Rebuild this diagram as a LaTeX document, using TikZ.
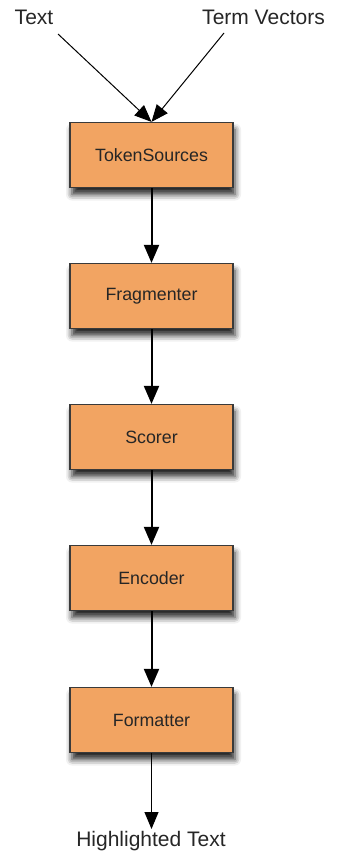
\documentclass[tikz,border=0pt]{standalone}
\usepackage{fontspec}
\setmainfont{Liberation Sans}
\usetikzlibrary{arrows.meta,shadows.blur}
\definecolor{boxfill}{HTML}{F2A462}
\definecolor{boxline}{HTML}{3A3A3A}
\tikzset{
  stage/.style={draw=boxline, line width=1.2pt, fill=boxfill, minimum width=163pt, minimum height=65pt, inner sep=0pt,
    font=\fontsize{17.8}{20}\selectfont, text=black!85,
    blur shadow={shadow xshift=2pt, shadow yshift=-7pt, shadow blur radius=6pt, shadow opacity=85}},
  lbl/.style={font=\fontsize{21}{23}\selectfont, text=black!85, inner sep=0pt, anchor=base},
  flow/.style={line width=2pt, -{Triangle[length=18pt,width=15pt]}},
  thin/.style={line width=1pt, -{Triangle[length=17pt,width=14pt]}}
}
\begin{document}
\begin{tikzpicture}[x=1pt,y=-1pt]
\useasboundingbox (0,0) rectangle (337,851);
\node[lbl] (text) at (34,25) {Text};
\node[lbl] (tv) at (263.5,25) {Term Vectors};
\coordinate (s1) at (58,34);
\coordinate (s2) at (224,33);
\node[stage] (ts) at (151.5,155) {TokenSources};
\node[stage] (fr) at (151.5,296) {Fragmenter};
\node[stage] (sc) at (151.5,437) {Scorer};
\node[stage] (en) at (151.5,578) {Encoder};
\node[stage] (fo) at (151.5,720) {Formatter};
\node[lbl] (ht) at (151,846) {Highlighted Text};
\coordinate (he) at (151.5,829);
\draw[thin] (s1) -- (ts.north);
\draw[thin] (s2) -- (ts.north);
\draw[flow] (ts) -- (fr);
\draw[flow] (fr) -- (sc);
\draw[flow] (sc) -- (en);
\draw[flow] (en) -- (fo);
\draw[thin] (fo) -- (he);
\end{tikzpicture}
\end{document}
